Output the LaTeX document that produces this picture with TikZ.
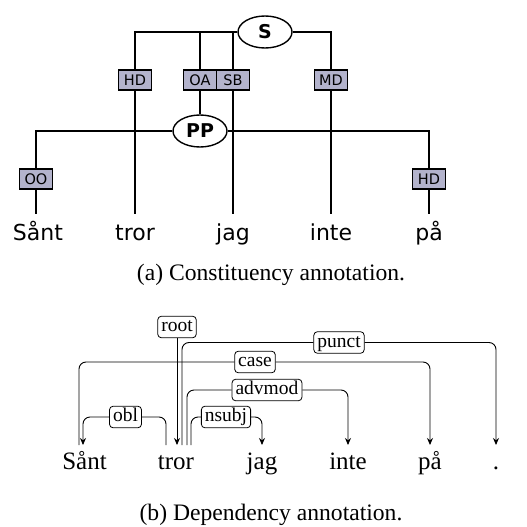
\documentclass[tikz,border=0pt]{standalone}
\usepackage{fontspec}
\setmainfont{Liberation Serif}
\newfontfamily\dejavu{DejaVu Sans}
\usetikzlibrary{shapes.geometric,arrows.meta}
\definecolor{lab}{HTML}{B3B3CC}
\begin{document}
\begin{tikzpicture}[x=1pt,y=-1pt,
 cat/.style={ellipse,draw,line width=1.4pt,minimum width=54pt,minimum height=32pt,inner sep=0pt,font=\dejavu\bfseries\fontsize{19pt}{22pt}\selectfont},
 fn/.style={rectangle,draw,line width=1.4pt,fill=lab,minimum width=33pt,minimum height=20pt,inner sep=0pt,font=\dejavu\fontsize{14.5pt}{17pt}\selectfont},
 tw/.style={anchor=north,inner sep=0pt,text height=26pt,font=\dejavu\fontsize{22pt}{26pt}\selectfont},
 tl/.style={line width=1.6pt},
 dw/.style={anchor=north,inner sep=0pt,text height=24pt,font=\fontsize{25pt}{30pt}\selectfont},
 dl/.style={draw,rounded corners=3.5pt,fill=white,line width=0.8pt,inner xsep=3.5pt,inner ysep=2pt,text height=13.5pt,text depth=4pt,font=\fontsize{19.5pt}{23pt}\selectfont},
 de/.style={line width=0.9pt,rounded corners=7pt},
 dea/.style={de,-{Stealth[length=7pt,width=6pt]}},
 captxt/.style={font=\fontsize{23.6pt}{28pt}\selectfont}]
\useasboundingbox (0,0) rectangle (527,527);

% ---------- (a) constituency ----------
\node[tw] (Sant) at (38,214) {Sånt};
\node[tw] (tror) at (135,214) {tror};
\node[tw] (jag) at (233,214) {jag};
\node[tw] (inte) at (331,214) {inte};
\node[tw] (paa) at (429,214) {på};

\node[cat] (S) at (265,32) {S};
\node[cat] (PP) at (200,131) {PP};

\node[fn] (HDa) at (135,80) {HD};
\node[fn] (OA) at (200,80) {OA};
\node[fn] (SB) at (233,80) {SB};
\node[fn] (MD) at (331,80) {MD};
\node[fn] (OO) at (36,179) {OO};
\node[fn] (HDb) at (429,179) {HD};

\draw[tl] (S.west) -| (HDa.north);
\draw[tl] (OA.north) -- (OA.north |- S.west);
\draw[tl] (SB.north) -- (SB.north |- S.west);
\draw[tl] (S.east) -| (MD.north);
\draw[tl] (HDa.south) -- (tror.north);
\draw[tl] (OA.south) -- (PP.north);
\draw[tl] (SB.south) -- (jag.north);
\draw[tl] (MD.south) -- (inte.north);
\draw[tl] (PP.west) -| (OO.north);
\draw[tl] (OO.south) -- (OO.south |- Sant.north);
\draw[tl] (PP.east) -| (HDb.north);
\draw[tl] (HDb.south) -- (paa.north);

\node[captxt] (capa) at (271,275) {(a) Constituency annotation.};

% ---------- (b) dependency ----------
\node[dw] (dSant) at (84.5,445) {Sånt};
\node[dw] (dtror) at (176,445) {tror};
\node[dw] (djag) at (262,445) {jag};
\node[dw] (dinte) at (348,445) {inte};
\node[dw] (dpaa) at (430,445) {på};
\node[dw] (ddot) at (496,445) {.};

\node[dl] (root) at (177,327) {root};
\node[dl] (punct) at (339,342.5) {punct};
\node[dl] (case) at (255,362) {case};
\node[dl] (advmod) at (267,390) {advmod};
\node[dl] (nsubj) at (226,417) {nsubj};
\node[dl] (obl) at (125.5,417) {obl};

\draw[dea] (root.south) -- ([xshift=1pt]dtror.north);
\draw[de] ([xshift=6pt]dtror.north) |- (punct.west);
\draw[dea] (punct.east) -| (ddot.north);
\draw[de] ([xshift=-5.5pt]dSant.north) |- (case.west);
\draw[dea] (case.east) -| (dpaa.north);
\draw[de] ([xshift=11pt]dtror.north) |- (advmod.west);
\draw[dea] (advmod.east) -| (dinte.north);
\draw[de] ([xshift=15pt]dtror.north) |- (nsubj.west);
\draw[dea] (nsubj.east) -| (djag.north);
\draw[de] ([xshift=-10pt]dtror.north) |- (obl.east);
\draw[dea] (obl.west) -| ([xshift=-1.5pt]dSant.north);

\node[captxt] (capb) at (271,515) {(b) Dependency annotation.};
\end{tikzpicture}
\end{document}
